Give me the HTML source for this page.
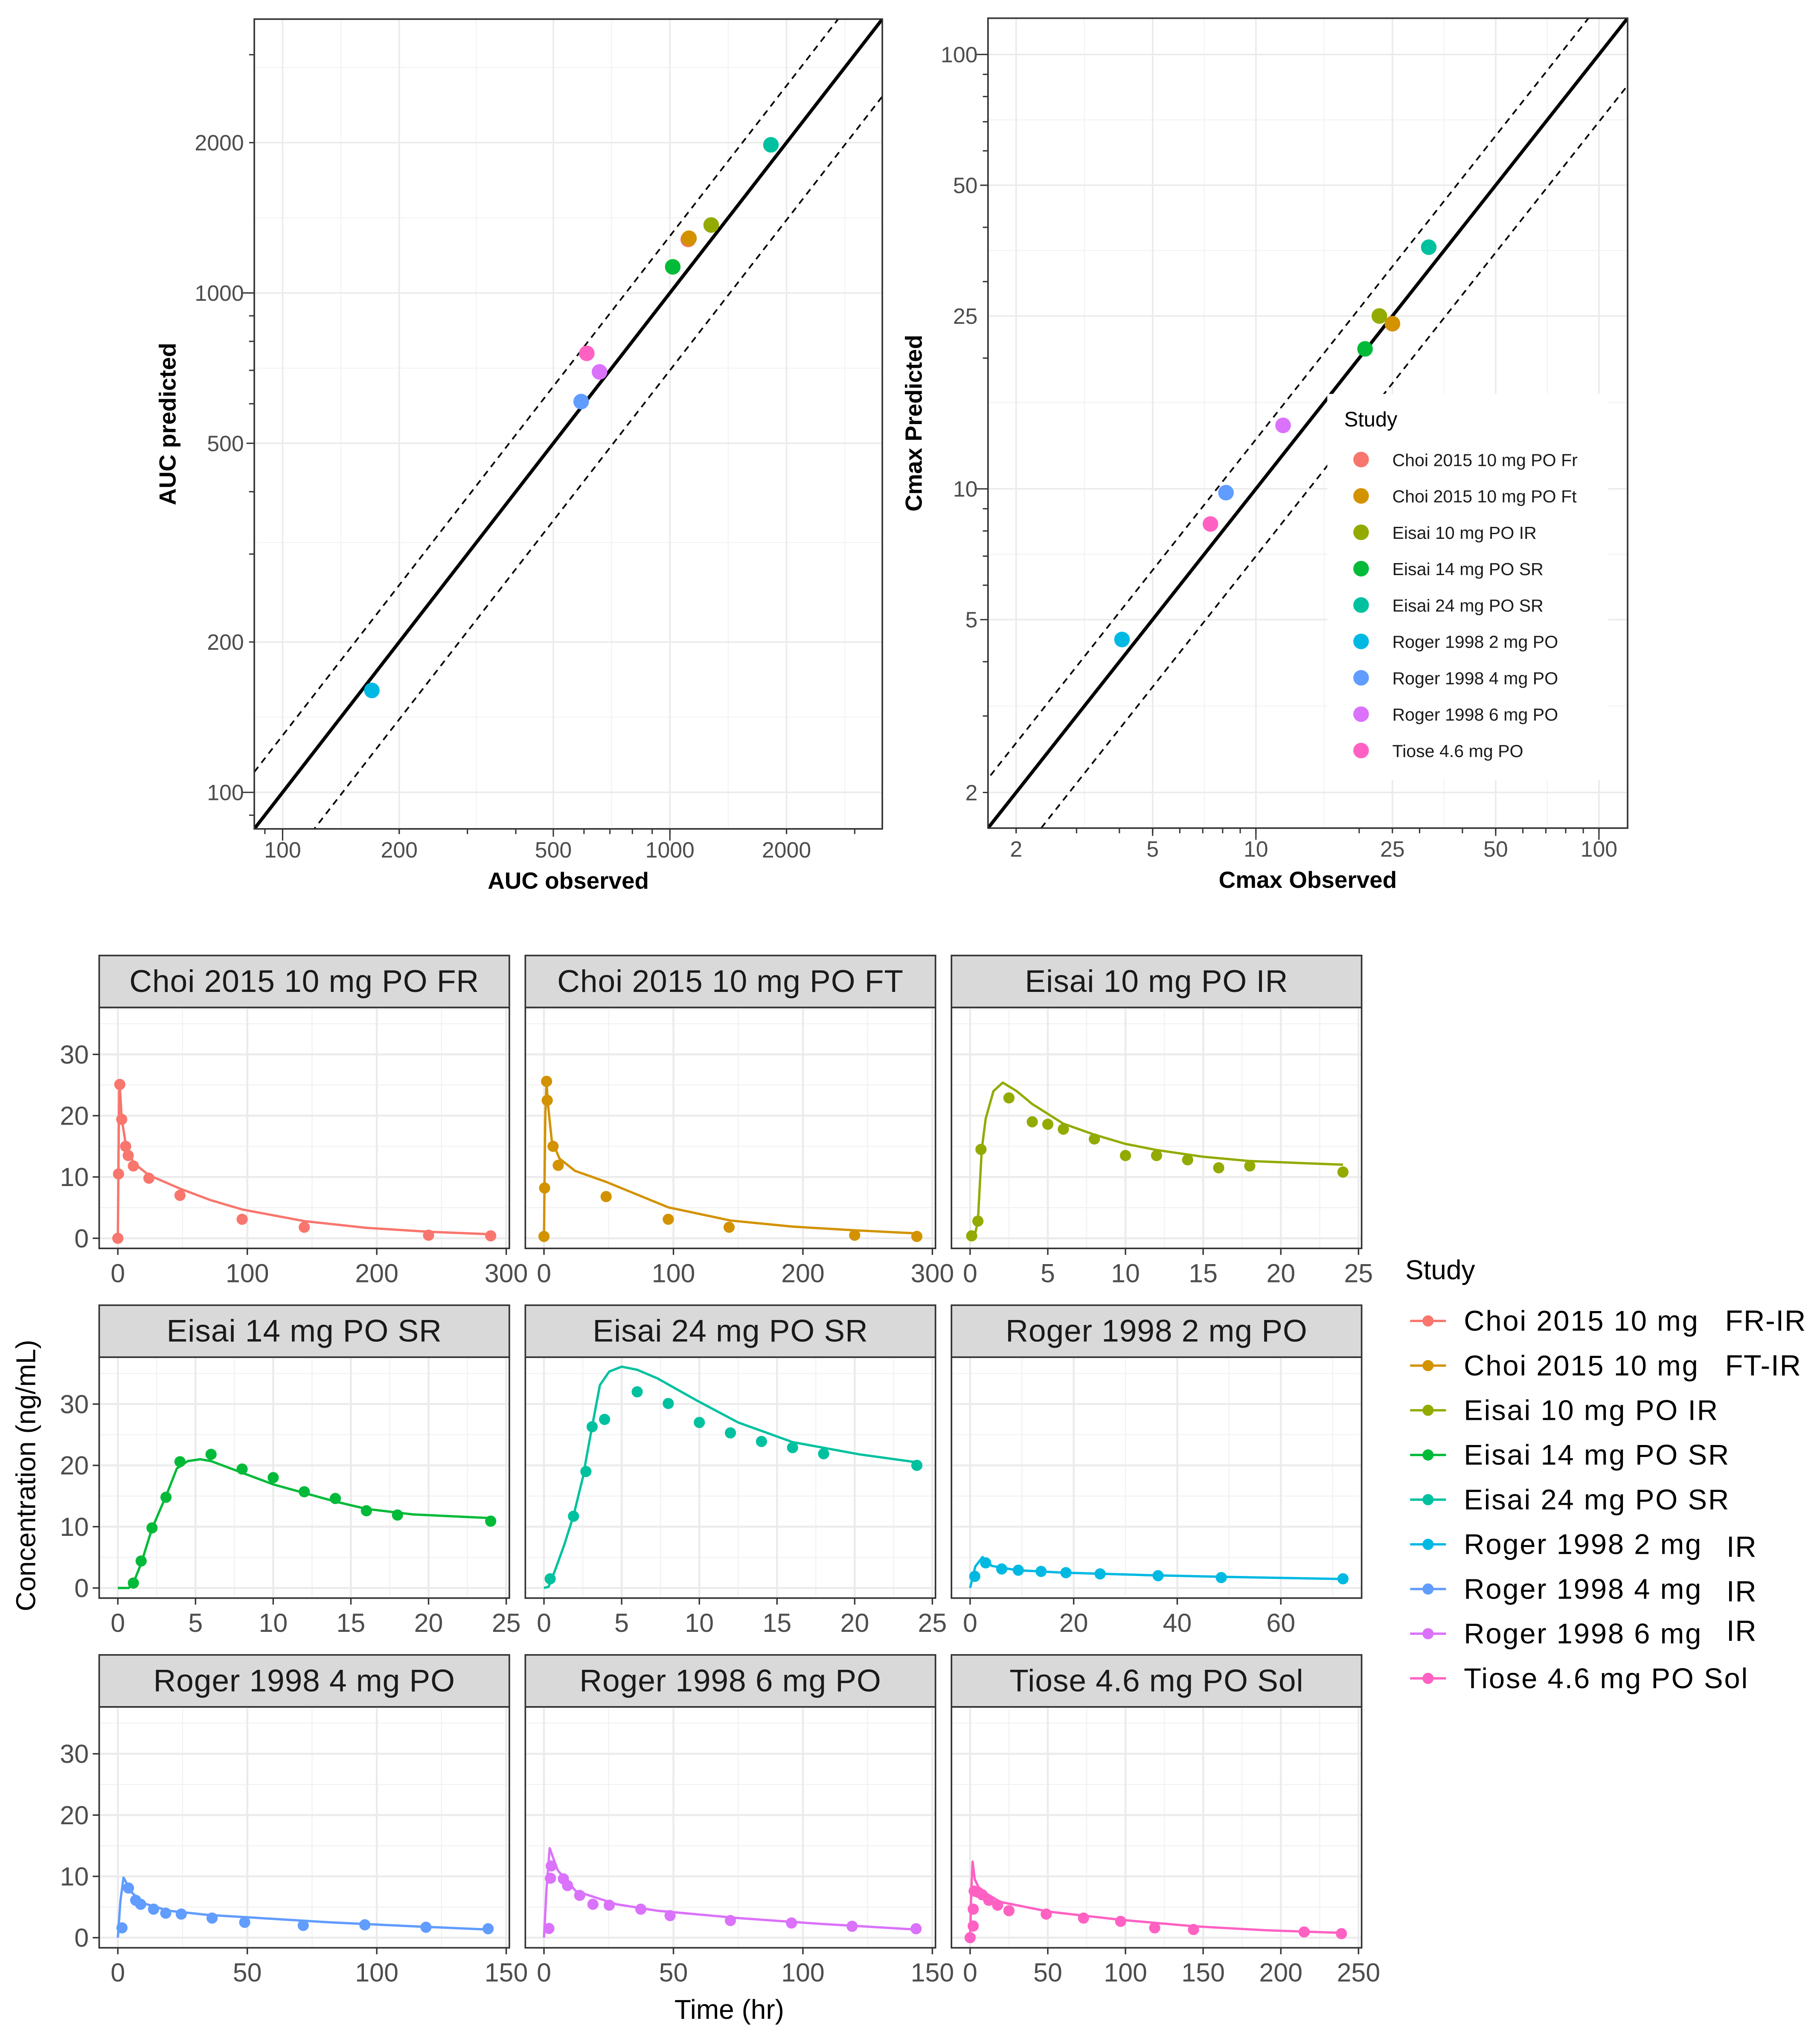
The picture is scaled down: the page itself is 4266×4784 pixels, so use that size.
<!DOCTYPE html>
<html><head><meta charset="utf-8"><title>PK model evaluation</title>
<style>
html,body{margin:0;padding:0;background:#fff;}
svg{display:block;font-family:"Liberation Sans",Arial,sans-serif;}
</style></head>
<body>
<svg id="chart" xmlns="http://www.w3.org/2000/svg" width="4266" height="4784" viewBox="0 0 1400 1570"></svg>
<script>
// ---------- data ----------
const studies=["Choi 2015 10 mg PO Fr","Choi 2015 10 mg PO Ft","Eisai 10 mg PO IR","Eisai 14 mg PO SR","Eisai 24 mg PO SR","Roger 1998 2 mg PO","Roger 1998 4 mg PO","Roger 1998 6 mg PO","Tiose 4.6 mg PO"];
const colors=["#F8766D","#D39200","#93AA00","#00BA38","#00C19F","#00B9E3","#619CFF","#DB72FB","#FF61C3"];
const aucObserved=[1115,1120,1278,1017,1823,170,590,658,610];
const aucPredicted=[1280,1287,1368,1128,1980,160,606,695,757];
const cmaxObserved=[25.0,25.0,22.9,20.8,31.9,4.07,8.18,12.0,7.37];
const cmaxPredicted=[24.0,24.0,25.0,21.0,36.0,4.50,9.8,14.0,8.30];
const aucTicks=[100,200,500,1000,2000];
const cmaxTicks=[2,5,10,25,50,100];
const foldLines=[1,1.3,0.7];

const facetTitles=["Choi 2015 10 mg PO FR","Choi 2015 10 mg PO FT","Eisai 10 mg PO IR","Eisai 14 mg PO SR","Eisai 24 mg PO SR","Roger 1998 2 mg PO","Roger 1998 4 mg PO","Roger 1998 6 mg PO","Tiose 4.6 mg PO Sol"];
const facetXMax=[288,288,24,24,24,72,144,144,240];
const facetXTicks=[[0,100,200,300],[0,100,200,300],[0,5,10,15,20,25],[0,5,10,15,20,25],[0,5,10,15,20,25],[0,20,40,60],[0,50,100,150],[0,50,100,150],[0,50,100,150,200,250]];
const concTicks=[0,10,20,30];

const frObsT=[0,0.5,1.5,3,6,8,12,24,48,96,144,240,288];
const frObsC=[0,10.5,25.1,19.4,15.0,13.5,11.8,9.8,7.0,3.1,1.8,0.5,0.4];
const frPredT=[0,0.5,1,1.5,3,6,12,24,48,72,96,144,192,240,288];
const frPredC=[0,12,24,25,19.5,15.5,12.3,10.3,8.1,6.2,4.7,2.8,1.7,1.06,0.66];

const ftObsT=[0,0.5,2,2.5,7,11,48,96,143,240,288];
const ftObsC=[0.3,8.2,25.6,22.5,15.0,11.9,6.8,3.1,1.8,0.5,0.3];
const ftPredT=[0,1,2,3,6,12,24,48,96,144,192,240,288];
const ftPredC=[0,20,25.5,22,16,13,11,9.2,5.05,2.9,1.9,1.3,0.8];

const e10ObsT=[0.1,0.5,0.7,2.5,4,5,6,8,10,12,14,16,18,24];
const e10ObsC=[0.4,2.8,14.5,22.9,19.0,18.6,17.8,16.2,13.5,13.5,12.8,11.5,11.8,10.8];
const e10PredT=[0,0.3,0.5,0.75,1,1.5,2.1,3,4,6,8,10,12,15,18,24];
const e10PredC=[0,0.5,2.8,14.5,19.5,24,25.4,24,21.9,18.7,16.9,15.4,14.4,13.3,12.6,12.0];

const e14ObsT=[1.0,1.5,2.2,3.1,4.0,6.0,8.0,10.0,12.0,14.0,16.0,18.0,24];
const e14ObsC=[0.8,4.4,9.8,14.8,20.6,21.8,19.4,18.0,15.7,14.6,12.6,11.9,10.9];
const e14PredT=[0,0.7,1,1.5,2.2,3.1,3.8,4.5,5.3,6,8,10,12,14,16,19,24];
const e14PredC=[0,0,0.8,4,9.7,15,19.5,20.7,21.0,20.7,18.8,16.9,15.5,14.1,12.9,12.0,11.4];

const e24ObsT=[0.4,1.9,2.7,3.1,3.9,6.0,8.0,10.0,12.0,14.0,16.0,18.0,24];
const e24ObsC=[1.5,11.7,19.0,26.3,27.5,32.0,30.1,27.0,25.3,23.9,22.9,21.9,20.0];
const e24PredT=[0,0.3,0.7,1.3,1.9,2.5,3,3.6,4.2,5,6,7.3,9.9,12.5,16,20.3,24];
const e24PredC=[0,0.2,2.8,7,11.8,18,25,33.1,35.3,36.1,35.6,34.2,30.5,27.0,23.8,21.8,20.5];

const r2ObsT=[0.9,3,6.1,9.3,13.7,18.5,25.1,36.3,48.5,72];
const r2ObsC=[1.9,4.1,3.1,2.9,2.7,2.5,2.3,2.0,1.7,1.5];
const r2PredT=[0,1,2.4,4.2,9,18,34,50,72];
const r2PredC=[0,3.5,5.05,3.6,2.9,2.5,2.1,1.8,1.46];

const r4ObsT=[1.6,4.1,6.9,8.8,13.8,18.5,24.5,36.4,49,71.6,95.4,119,143];
const r4ObsC=[1.6,8.1,6.1,5.45,4.65,4.0,3.85,3.2,2.5,2.0,2.1,1.7,1.46];
const r4PredT=[0,1,2.2,5.3,10,19.5,35,51,82,114,143];
const r4PredC=[0,6,9.8,7.4,5.6,4.4,3.7,3.3,2.5,1.86,1.33];

const r6ObsT=[1.9,2.5,2.8,7.5,9.1,13.8,18.9,25.2,37.4,48.7,72,95.6,119,143.7];
const r6ObsC=[1.5,9.7,11.7,9.6,8.5,6.9,5.45,5.3,4.65,3.6,2.8,2.4,1.86,1.46];
const r6PredT=[0,1,2.2,5.3,12.3,28,43.7,75,106.6,143.7];
const r6PredC=[0,8,14.6,11.0,7.6,5.45,4.4,3.2,2.26,1.33];

const tiObsT=[0,2,2,2.6,5.2,7.8,12,17.7,25,49,73,96.9,118.8,143.8,215,239];
const tiObsC=[0,1.9,4.65,7.6,7.4,7.0,6.1,5.3,4.4,3.85,3.2,2.66,1.6,1.33,0.93,0.66];
const tiPredT=[0,0.8,1.6,3,6.2,19.3,50.5,97.4,144,191,238];
const tiPredC=[0,8,12.4,9.5,7.85,5.85,4.25,2.9,1.86,1.2,0.8];

const obsTimes=[frObsT,ftObsT,e10ObsT,e14ObsT,e24ObsT,r2ObsT,r4ObsT,r6ObsT,tiObsT];
const obsConcs=[frObsC,ftObsC,e10ObsC,e14ObsC,e24ObsC,r2ObsC,r4ObsC,r6ObsC,tiObsC];
const predTimes=[frPredT,ftPredT,e10PredT,e14PredT,e24PredT,r2PredT,r4PredT,r6PredT,tiPredT];
const predConcs=[frPredC,ftPredC,e10PredC,e14PredC,e24PredC,r2PredC,r4PredC,r6PredC,tiPredC];

const legendLabels=["Choi 2015 10 mg","Choi 2015 10 mg","Eisai 10 mg PO IR","Eisai 14 mg PO SR","Eisai 24 mg PO SR","Roger 1998 2 mg","Roger 1998 4 mg","Roger 1998 6 mg","Tiose 4.6 mg PO Sol"];
const legendSuffix=["FR-IR","FT-IR","","","","IR","IR","IR",""];

// ---------- helpers ----------
const NS="http://www.w3.org/2000/svg";
const svg=document.getElementById("chart");
function mk(tag,attrs,parent){const e=document.createElementNS(NS,tag);for(const k in attrs)e.setAttribute(k,attrs[k]);(parent||svg).appendChild(e);return e;}
function txt(str,attrs,parent){const e=mk("text",attrs,parent);e.textContent=str;return e;}
const L10=Math.log10;

// ---------- log-log scatter panels ----------
function logPanel(cfg){
  const g=mk("g",{});
  
  
  const {x0,x1,y0,y1,lo,hi}=cfg;
  const sx=v=>x0+(L10(v)-lo)/(hi-lo)*(x1-x0);
  const sy=v=>y1-(L10(v)-lo)/(hi-lo)*(y1-y0);
  const cid=cfg.name+"-clip";
  const cp=mk("clipPath",{id:cid},g);
  mk("rect",{x:x0,y:y0,width:x1-x0,height:y1-y0},cp);
  const bg=mk("rect",{x:x0,y:y0,width:x1-x0,height:y1-y0,fill:"#fff"},g);
  
  
  const br=cfg.ticks;
  const minors=[];
  for(let i=0;i<br.length-1;i++)minors.push(Math.sqrt(br[i]*br[i+1]));
  minors.push(Math.sqrt(br[br.length-1]*br[br.length-1]*br[br.length-1]/br[br.length-2]));
  minors.forEach(m=>{
    if(L10(m)<lo||L10(m)>hi)return;
    const a=mk("line",{x1:sx(m),x2:sx(m),y1:y0,y2:y1,stroke:"#f2f2f2","stroke-width":0.7},g);
    
    
    const b=mk("line",{x1:x0,x2:x1,y1:sy(m),y2:sy(m),stroke:"#f2f2f2","stroke-width":0.7},g);
    
    
  });
  br.forEach(m=>{
    const a=mk("line",{x1:sx(m),x2:sx(m),y1:y0,y2:y1,stroke:"#ebebeb","stroke-width":1.2},g);
    
    
    const b=mk("line",{x1:x0,x2:x1,y1:sy(m),y2:sy(m),stroke:"#ebebeb","stroke-width":1.2},g);
    
    
  });
  const lv=Math.pow(10,lo-0.5),hv=Math.pow(10,hi+0.5);
  foldLines.forEach((k,i)=>{
    const ln=mk("line",{x1:sx(lv),y1:sy(lv*k),x2:sx(hv),y2:sy(hv*k),stroke:"#000","stroke-width":i===0?2.6:1.3,"stroke-dasharray":i===0?"none":"5,4","clip-path":"url(#"+cid+")"},g);
    
    
  });
  cfg.xs.forEach((v,i)=>{
    const c=mk("circle",{cx:sx(v),cy:sy(cfg.ys[i]),r:6,fill:colors[i]},g);
    
    
  });
  const border=mk("rect",{x:x0,y:y0,width:x1-x0,height:y1-y0,fill:"none",stroke:"#333","stroke-width":1.2},g);
  
  
  for(let e=-1;e<5;e++){
    for(let m=1;m<10;m++){
      const v=m*Math.pow(10,e);
      if(L10(v)<lo||L10(v)>hi)continue;
      const len=m===1?9:(m===5?6:4);
      const tx=mk("line",{x1:sx(v),x2:sx(v),y1:y1,y2:y1+len,stroke:"#333","stroke-width":1},g);
      
      
      const ty=mk("line",{x1:x0,x2:x0-len,y1:sy(v),y2:sy(v),stroke:"#333","stroke-width":1},g);
      
      
    }
  }
  br.forEach(m=>{
    const tx=mk("line",{x1:sx(m),x2:sx(m),y1:y1,y2:y1+4,stroke:"#333","stroke-width":1},g);
    
    
    const lx=txt(String(m),{x:sx(m),y:y1+22,"text-anchor":"middle","font-size":17,fill:"#4d4d4d"},g);
    
    
    const ly=txt(String(m),{x:x0-8,y:sy(m)+6,"text-anchor":"end","font-size":17,fill:"#4d4d4d"},g);
    
    
  });
  const xt=txt(cfg.xTitle,{x:(x0+x1)/2,y:y1+46,"text-anchor":"middle","font-size":18,"font-weight":"bold",fill:"#000"},g);
  
  
  const yt=txt(cfg.yTitle,{x:0,y:0,"text-anchor":"middle","font-size":18,"font-weight":"bold",fill:"#000",transform:"translate("+cfg.yTitleX+","+((y0+y1)/2)+") rotate(-90)"},g);
  
  
}
logPanel({name:"auc-plot",x0:195.6,x1:678.7,y0:14.7,y1:637.6,lo:L10(84.5),hi:L10(3535),ticks:aucTicks,xs:aucObserved,ys:aucPredicted,xTitle:"AUC observed",yTitle:"AUC predicted",yTitleX:135});
logPanel({name:"cmax-plot",x0:760,x1:1252,y0:14,y1:637,lo:0.219,hi:2.0835,ticks:cmaxTicks,xs:cmaxObserved,ys:cmaxPredicted,xTitle:"Cmax Observed",yTitle:"Cmax Predicted",yTitleX:709});

(function(){
  const g=mk("g",{});
  
  
  const bx=mk("rect",{x:1021,y:303,width:216,height:297,fill:"#fff"},g);
  
  
  const t=txt("Study",{x:1034,y:328,"font-size":16,fill:"#000"},g);
  
  
  studies.forEach((s,i)=>{
    const cy=353.5+i*27.98;
    const d=mk("circle",{cx:1047,cy:cy,r:6,fill:colors[i]},g);
    
    
    const l=txt(s,{x:1071,y:cy+5,"font-size":13.5,fill:"#1a1a1a"},g);
    
    
  });
})();

// ---------- facets ----------
const colX=[76.3,404.1,731.9], colW=315.5;
const rowY=[735,1004,1273], stripH=40, panelH=185.3;
const yLo=-1.65, yHi=37.65;
for(let f=0;f<9;f++){
  const col=f%3,row=Math.floor(f/3);
  const x0=colX[col],x1=x0+colW,st=rowY[row],y0=st+stripH,y1=y0+panelH;
  const xmax=facetXMax[f],xlo=-0.05*xmax,xhi=1.05*xmax;
  const sx=v=>x0+(v-xlo)/(xhi-xlo)*(x1-x0);
  const sy=v=>y1-(v-yLo)/(yHi-yLo)*(y1-y0);
  const g=mk("g",{});
  
  
  const sr=mk("rect",{x:x0,y:st,width:colW,height:stripH,fill:"#d9d9d9",stroke:"#333","stroke-width":1.2},g);
  
  
  const stt=txt(facetTitles[f],{x:(x0+x1)/2,y:st+28,"text-anchor":"middle","font-size":24,"letter-spacing":0.3,fill:"#1a1a1a"},g);
  
  
  [5,15,25,35].forEach(v=>{
    const a=mk("line",{x1:x0,x2:x1,y1:sy(v),y2:sy(v),stroke:"#f2f2f2","stroke-width":0.8},g);
    
    
  });
  const tk=facetXTicks[f],step=tk[1]-tk[0];
  tk.concat([tk[tk.length-1]+step]).forEach(v=>{
    const m=v-step/2;
    if(m<xlo||m>xhi)return;
    const a=mk("line",{x1:sx(m),x2:sx(m),y1:y0,y2:y1,stroke:"#f2f2f2","stroke-width":0.8},g);
    
    
  });
  concTicks.forEach(v=>{
    const a=mk("line",{x1:x0,x2:x1,y1:sy(v),y2:sy(v),stroke:"#ebebeb","stroke-width":1.5},g);
    
    
  });
  tk.forEach(v=>{
    const a=mk("line",{x1:sx(v),x2:sx(v),y1:y0,y2:y1,stroke:"#ebebeb","stroke-width":1.5},g);
    
    
    const t=mk("line",{x1:sx(v),x2:sx(v),y1:y1,y2:y1+5,stroke:"#333","stroke-width":1.1},g);
    
    
    const l=txt(String(v),{x:sx(v),y:y1+26,"text-anchor":"middle","font-size":20,fill:"#4d4d4d"},g);
    
    
  });
  const pts=predTimes[f].map((t,i)=>sx(t).toFixed(2)+","+sy(predConcs[f][i]).toFixed(2)).join(" ");
  const pl=mk("polyline",{points:pts,fill:"none",stroke:colors[f],"stroke-width":1.8,"stroke-linejoin":"round"},g);
  
  
  obsTimes[f].forEach((t,i)=>{
    const c=mk("circle",{cx:sx(t),cy:sy(obsConcs[f][i]),r:4.3,fill:colors[f]},g);
    
    
  });
  const b=mk("rect",{x:x0,y:y0,width:colW,height:panelH,fill:"none",stroke:"#333","stroke-width":1.2},g);
  
  
  if(col===0){
    concTicks.forEach(v=>{
      const t=mk("line",{x1:x0-5,x2:x0,y1:sy(v),y2:sy(v),stroke:"#333","stroke-width":1.1},g);
      
      
      const l=txt(String(v),{x:x0-8,y:sy(v)+7,"text-anchor":"end","font-size":20,fill:"#4d4d4d"},g);
      
      
    });
  }
}
const yT=txt("Concentration (ng/mL)",{x:0,y:0,"text-anchor":"middle","font-size":21,fill:"#000",transform:"translate(27,1135) rotate(-90)"});


const xT=txt("Time (hr)",{x:561,y:1553,"text-anchor":"middle","font-size":21,fill:"#000"});



(function(){
  const g=mk("g",{});
  
  
  const t=txt("Study",{x:1081,y:984,"font-size":21,fill:"#000"},g);
  
  
  legendLabels.forEach((s,i)=>{
    const cy=1016.1+i*34.37;
    const ln=mk("line",{x1:1084.7,x2:1112.3,y1:cy,y2:cy,stroke:colors[i],"stroke-width":1.8},g);
    
    
    const d=mk("circle",{cx:1098.5,cy:cy,r:4.3,fill:colors[i]},g);
    
    
    const l=txt(s,{x:1126,y:cy+7.5,"font-size":22,"letter-spacing":0.9,fill:"#000"},g);
    
    
    if(legendSuffix[i]){
      const dy=i===7?-2:(i>=5?2:0);
      const sfx=txt(legendSuffix[i],{x:i<2?1327:1328,y:cy+7.5+dy,"font-size":22.5,"letter-spacing":0.5,fill:"#000"},g);
      
      
    }
  });
})();
</script>
</body></html>
